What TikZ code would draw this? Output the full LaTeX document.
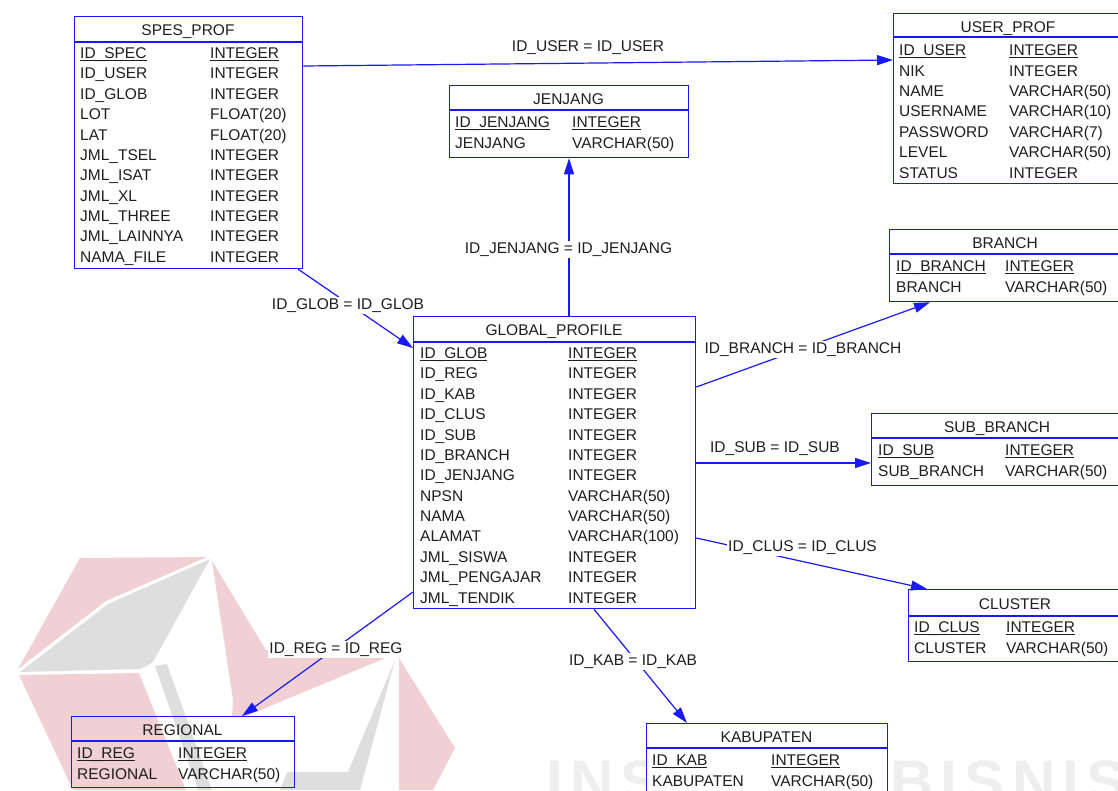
\documentclass[tikz,border=0pt]{standalone}
\usepackage{fontspec}
\setmainfont{Liberation Sans}
\usetikzlibrary{arrows.meta,calc}

\definecolor{erblue}{RGB}{25,25,245}
\definecolor{ertext}{RGB}{30,30,30}
\definecolor{wmpink}{RGB}{241,208,212}
\definecolor{wmgray}{RGB}{222,222,222}
\definecolor{wmtext}{RGB}{238,238,238}

\newcommand{\erfont}{\fontsize{15.5}{18}\selectfont}
\newsavebox{\pkbox}
\newcommand{\pk}[1]{\sbox\pkbox{#1}\rlap{\rule[-2.2pt]{\wd\pkbox}{1pt}}\usebox\pkbox}

\begin{document}
\begin{tikzpicture}[x=1pt,y=-1pt,
    tbl/.style={draw=erblue, line width=1.3pt, anchor=north west, inner sep=0pt},
    ttl/.style={anchor=base, text=ertext, font=\erfont, inner sep=0pt},
    fld/.style={anchor=base west, text=ertext, font=\erfont, inner sep=0pt},
    lbl/.style={anchor=base, fill=white, text=ertext, font=\erfont, inner sep=1.5pt},
    rel/.style={draw=erblue, line width=1.2pt, -{Triangle[length=16pt,width=10pt]}}]
  \useasboundingbox (0,0) rectangle (1118,790);
  \clip (0,0) rectangle (1118,790);

  % watermark
  \fill[wmpink] (80,558) -- (207,557) -- (106,601) -- (18,669) -- cycle;
  \fill[wmgray] (20,672) -- (108,604) -- (210,559) -- (153,662) -- (141,669) -- cycle;
  \fill[wmpink] (19,675) -- (139,673) -- (186,790) -- (73,790) -- cycle;
  \fill[wmgray] (155,666) -- (167,664) -- (212,790) -- (198,790) -- cycle;
  \fill[wmpink] (212,561) -- (266,650) -- (395,654) -- (244,717) -- (232,717) -- (233,700) -- cycle;
  \fill[wmpink] (399,658) -- (455,748) -- (433,790) -- (399,790) -- cycle;
  \fill[wmgray] (395,660) -- (348,772) -- (287,772) -- (280,790) -- (360,790) -- cycle;
  \node[anchor=base west, inner sep=0pt, text=wmtext,
        font=\fontsize{60}{60}\selectfont\bfseries\addfontfeatures{LetterSpace=12}]
        (wm) at (546,802) {INSTITUT BISNIS};

  % SPES_PROF
  \node[tbl, minimum width=228pt, minimum height=252pt] (spes) at (74,16) {};
  \draw[erblue, line width=1.3pt] ([yshift=-26pt]spes.north west) -- ([yshift=-26pt]spes.north east);
  \node[ttl] (spes-t) at (188,35) {SPES\_PROF};
  \foreach \f/\t [count=\i from 0] in {\pk{ID\_SPEC}/\pk{INTEGER}, ID\_USER/INTEGER,
      ID\_GLOB/INTEGER, LOT/FLOAT(20), LAT/FLOAT(20), JML\_TSEL/INTEGER,
      JML\_ISAT/INTEGER, JML\_XL/INTEGER, JML\_THREE/INTEGER,
      JML\_LAINNYA/INTEGER, NAMA\_FILE/INTEGER}
  {
    \node[fld] (spes-a\i) at (80,{58.6+20.37*\i}) {\f};
    \node[fld] (spes-b\i) at (210,{58.6+20.37*\i}) {\t};
  }

  % USER_PROF
  \node[tbl, minimum width=231pt, minimum height=170pt] (user) at (893,13) {};
  \draw[erblue, line width=1.3pt] ([yshift=-24pt]user.north west) -- ([yshift=-24pt]user.north east);
  \node[ttl] (user-t) at (1008,32) {USER\_PROF};
  \foreach \f/\t [count=\i from 0] in {\pk{ID\_USER}/\pk{INTEGER}, NIK/INTEGER,
      NAME/VARCHAR(50), USERNAME/VARCHAR(10), PASSWORD/VARCHAR(7),
      LEVEL/VARCHAR(50), STATUS/INTEGER}
  {
    \node[fld] (user-a\i) at (899,{55.6+20.4*\i}) {\f};
    \node[fld] (user-b\i) at (1009,{55.6+20.4*\i}) {\t};
  }

  % JENJANG
  \node[tbl, minimum width=239pt, minimum height=72pt] (jenjang) at (449,85) {};
  \draw[erblue, line width=1.3pt] ([yshift=-25pt]jenjang.north west) -- ([yshift=-25pt]jenjang.north east);
  \node[ttl] (jenjang-t) at (568.5,104) {JENJANG};
  \node[fld] (jenjang-a0) at (455,127.6) {\pk{ID\_JENJANG}};
  \node[fld] (jenjang-b0) at (572,127.6) {\pk{INTEGER}};
  \node[fld] (jenjang-a1) at (455,148) {JENJANG};
  \node[fld] (jenjang-b1) at (572,148) {VARCHAR(50)};

  % GLOBAL_PROFILE
  \node[tbl, minimum width=282pt, minimum height=292pt] (global) at (413,316) {};
  \draw[erblue, line width=1.3pt] ([yshift=-26pt]global.north west) -- ([yshift=-26pt]global.north east);
  \node[ttl] (global-t) at (554,335) {GLOBAL\_PROFILE};
  \foreach \f/\t [count=\i from 0] in {\pk{ID\_GLOB}/\pk{INTEGER}, ID\_REG/INTEGER,
      ID\_KAB/INTEGER, ID\_CLUS/INTEGER, ID\_SUB/INTEGER, ID\_BRANCH/INTEGER,
      ID\_JENJANG/INTEGER, NPSN/VARCHAR(50), NAMA/VARCHAR(50),
      ALAMAT/VARCHAR(100), JML\_SISWA/INTEGER, JML\_PENGAJAR/INTEGER,
      JML\_TENDIK/INTEGER}
  {
    \node[fld] (global-a\i) at (420,{358.6+20.37*\i}) {\f};
    \node[fld] (global-b\i) at (568,{358.6+20.37*\i}) {\t};
  }

  % BRANCH
  \node[tbl, minimum width=233pt, minimum height=72pt] (branch) at (889,229) {};
  \draw[erblue, line width=1.3pt] ([yshift=-25pt]branch.north west) -- ([yshift=-25pt]branch.north east);
  \node[ttl] (branch-t) at (1005,248) {BRANCH};
  \node[fld] (branch-a0) at (896,271.6) {\pk{ID\_BRANCH}};
  \node[fld] (branch-b0) at (1005,271.6) {\pk{INTEGER}};
  \node[fld] (branch-a1) at (896,292) {BRANCH};
  \node[fld] (branch-b1) at (1005,292) {VARCHAR(50)};

  % SUB_BRANCH
  \node[tbl, minimum width=252pt, minimum height=72pt] (subbranch) at (871,413) {};
  \draw[erblue, line width=1.3pt] ([yshift=-25pt]subbranch.north west) -- ([yshift=-25pt]subbranch.north east);
  \node[ttl] (subbranch-t) at (997,432) {SUB\_BRANCH};
  \node[fld] (subbranch-a0) at (878,455.6) {\pk{ID\_SUB}};
  \node[fld] (subbranch-b0) at (1005,455.6) {\pk{INTEGER}};
  \node[fld] (subbranch-a1) at (878,476) {SUB\_BRANCH};
  \node[fld] (subbranch-b1) at (1005,476) {VARCHAR(50)};

  % CLUSTER
  \node[tbl, minimum width=214pt, minimum height=72pt] (cluster) at (908,589) {};
  \draw[erblue, line width=1.3pt] ([yshift=-27pt]cluster.north west) -- ([yshift=-27pt]cluster.north east);
  \node[ttl] (cluster-t) at (1015,609) {CLUSTER};
  \node[fld] (cluster-a0) at (914,632.6) {\pk{ID\_CLUS}};
  \node[fld] (cluster-b0) at (1006,632.6) {\pk{INTEGER}};
  \node[fld] (cluster-a1) at (914,653) {CLUSTER};
  \node[fld] (cluster-b1) at (1006,653) {VARCHAR(50)};

  % REGIONAL
  \node[tbl, minimum width=223pt, minimum height=71pt] (regional) at (71,716) {};
  \draw[erblue, line width=1.3pt] ([yshift=-25pt]regional.north west) -- ([yshift=-25pt]regional.north east);
  \node[ttl] (regional-t) at (182.5,735) {REGIONAL};
  \node[fld] (regional-a0) at (77,758.6) {\pk{ID\_REG}};
  \node[fld] (regional-b0) at (178,758.6) {\pk{INTEGER}};
  \node[fld] (regional-a1) at (77,779) {REGIONAL};
  \node[fld] (regional-b1) at (178,779) {VARCHAR(50)};

  % KABUPATEN
  \node[tbl, fill=white, minimum width=241pt, minimum height=72pt] (kab) at (646,723) {};
  \draw[erblue, line width=1.3pt] ([yshift=-25pt]kab.north west) -- ([yshift=-25pt]kab.north east);
  \node[ttl] (kab-t) at (766.5,742) {KABUPATEN};
  \node[fld] (kab-a0) at (652,765.6) {\pk{ID\_KAB}};
  \node[fld] (kab-b0) at (771,765.6) {\pk{INTEGER}};
  \node[fld] (kab-a1) at (652,786) {KABUPATEN};
  \node[fld] (kab-b1) at (771,786) {VARCHAR(50)};

  % relations
  \draw[rel] ([yshift=-50pt]spes.north east) -- ([yshift=-47pt]user.north west);
  \draw[rel] ([xshift=-5pt]spes.south east) -- ([yshift=-32pt]global.north west);
  \draw[rel] ([xshift=156pt]global.north west) -- ([xshift=120pt]jenjang.south west);
  \draw[rel] ([yshift=-71pt]global.north east) -- ([xshift=41pt]branch.south west);
  \draw[rel] ([yshift=-147pt]global.north east) -- ([yshift=-50pt]subbranch.north west);
  \draw[rel] ([yshift=-222pt]global.north east) -- ([xshift=19pt]cluster.north west);
  \draw[rel] ([yshift=-276pt]global.north west) -- ([xshift=171pt]regional.north west);
  \draw[rel] ([xshift=181pt]global.south west) -- ([xshift=41pt]kab.north west);

  \node[lbl, fill=none] (l-user) at (588,51.7) {ID\_USER = ID\_USER};
  \node[lbl] (l-glob) at (348,309.3) {ID\_GLOB = ID\_GLOB};
  \node[lbl] (l-jenjang) at (568.5,253) {ID\_JENJANG = ID\_JENJANG};
  \node[lbl] (l-branch) at (803,353.3) {ID\_BRANCH = ID\_BRANCH};
  \node[lbl, fill=none] (l-sub) at (775,452.3) {ID\_SUB = ID\_SUB};
  \node[lbl] (l-clus) at (802.5,551.7) {ID\_CLUS = ID\_CLUS};
  \node[lbl] (l-reg) at (336,653.3) {ID\_REG = ID\_REG};
  \node[lbl] (l-kab) at (633,665) {ID\_KAB = ID\_KAB};
\end{tikzpicture}
\end{document}
